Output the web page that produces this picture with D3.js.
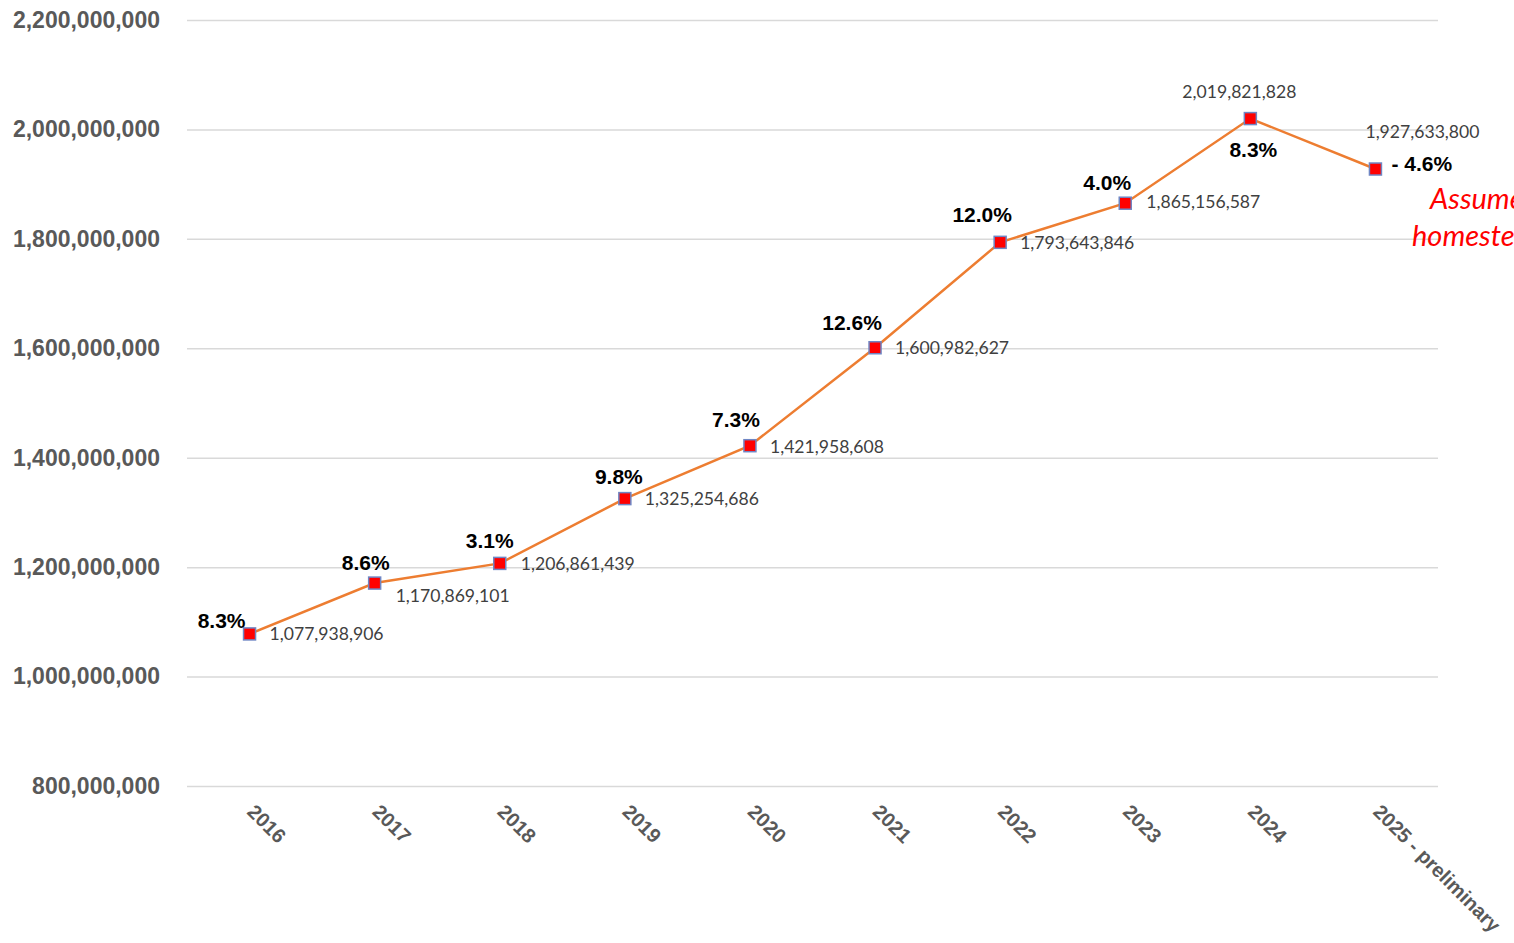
<!DOCTYPE html>
<html>
<head>
<meta charset="utf-8">
<script src="https://cdn.jsdelivr.net/npm/d3@7"></script>
<style>
  body { margin: 0; background: #fff; }
  svg { display: block; }
</style>
</head>
<body>
<svg width="1514" height="943"></svg>
<script>
// data
var years = ["2016", "2017", "2018", "2019", "2020", "2021", "2022", "2023", "2024", "2025 - preliminary"];
var values = [1077938906, 1170869101, 1206861439, 1325254686, 1421958608, 1600982627, 1793643846, 1865156587, 2019821828, 1927633800];
var pctLabels = ["8.3%", "8.6%", "3.1%", "9.8%", "7.3%", "12.6%", "12.0%", "4.0%", "8.3%", "- 4.6%"];
var yTicks = [800000000, 1000000000, 1200000000, 1400000000, 1600000000, 1800000000, 2000000000, 2200000000];
var noteLines = ["Assumes", "homestead"];

// where each label goes relative to its point: [pct dx, pct dy, pct anchor, value dx, value dy, value anchor]
var labelPos = [
    [-4, -13, "end", 20, 0, "start"],
    [-9, -20, "middle", 21, 13, "start"],
    [-10, -23, "middle", 21, 0, "start"],
    [-6, -22, "middle", 20, 0, "start"],
    [-14, -26, "middle", 20, 1, "start"],
    [-23, -25, "middle", 20, 0, "start"],
    [-18, -28, "middle", 20, 1, "start"],
    [-18, -21, "middle", 21, -1, "start"],
    [3, 31, "middle", -11, -27, "middle"],
    [16, -5, "start", 47, -37, "middle"]
];

var svg = d3.select("svg"),
    mLeft = 187, mRight = 1438, mTop = 20, mBottom = 786;

var x = d3.scalePoint()
    .domain(years)
    .range([mLeft, mRight])
    .padding(0.5);

var y = d3.scaleLinear()
    .domain([800000000, 2200000000])
    .range([mBottom, mTop]);

// gridlines + y labels
var yAxis = svg.append("g")
    .attr("transform", "translate(" + mLeft + ",0)")
    .call(d3.axisLeft(y).tickValues(yTicks).tickFormat(d3.format(",")).tickSize(-(mRight - mLeft)).tickPadding(27));
yAxis.select(".domain").remove();
yAxis.selectAll("line").attr("stroke", "#d9d9d9").attr("stroke-width", 1.5);
yAxis.selectAll("text")
    .attr("fill", "#595959")
    .style("font-family", "Liberation Sans, Arial, sans-serif")
    .style("font-size", "23px")
    .style("font-weight", "bold");

// x labels, rotated
var xAxis = svg.append("g")
    .attr("transform", "translate(0," + mBottom + ")")
    .call(d3.axisBottom(x).tickSize(0).tickPadding(0));
xAxis.select(".domain").remove();
xAxis.selectAll("text")
    .attr("fill", "#595959")
    .attr("text-anchor", "start")
    .attr("dy", 0)
    .attr("transform", "translate(-4,27) rotate(45)")
    .style("font-family", "Liberation Sans, Arial, sans-serif")
    .style("font-size", "20px")
    .style("font-weight", "bold");

var pts = years.map(function(d, i) { return {year: d, value: values[i], pct: pctLabels[i], pos: labelPos[i]}; });

var line = d3.line()
    .x(function(d) { return x(d.year); })
    .y(function(d) { return y(d.value); });

svg.append("path")
    .datum(pts)
    .attr("d", line)
    .attr("fill", "none")
    .attr("stroke", "#ed7d31")
    .attr("stroke-width", 2.5);

svg.selectAll("rect.mark")
    .data(pts)
    .enter().append("rect")
    .attr("class", "mark")
    .attr("x", function(d) { return x(d.year) - 6; })
    .attr("y", function(d) { return y(d.value) - 6; })
    .attr("width", 12)
    .attr("height", 12)
    .attr("fill", "#ff0000")
    .attr("stroke", "#6f86c4")
    .attr("stroke-width", 1.5);

svg.selectAll("text.val")
    .data(pts)
    .enter().append("text")
    .attr("class", "val")
    .attr("x", function(d) { return x(d.year) + d.pos[3]; })
    .attr("y", function(d) { return y(d.value) + d.pos[4]; })
    .attr("dy", "0.35em")
    .attr("text-anchor", function(d) { return d.pos[5]; })
    .attr("fill", "#404040")
    .style("font-family", "Lato, sans-serif")
    .style("font-size", "17.6px")
    .text(function(d) { return d3.format(",")(d.value); });

svg.selectAll("text.pct")
    .data(pts)
    .enter().append("text")
    .attr("class", "pct")
    .attr("x", function(d) { return x(d.year) + d.pos[0]; })
    .attr("y", function(d) { return y(d.value) + d.pos[1]; })
    .attr("dy", "0.35em")
    .attr("text-anchor", function(d) { return d.pos[2]; })
    .attr("fill", "#000")
    .style("font-family", "Liberation Sans, Arial, sans-serif")
    .style("font-size", "21px")
    .style("font-weight", "bold")
    .text(function(d) { return d.pct; });

// red note, runs off the right edge as in the original
svg.append("g").selectAll("text")
    .data(noteLines)
    .enter().append("text")
    .attr("x", function(d, i) { return i ? 1412 : 1430; })
    .attr("y", function(d, i) { return 209 + i * 37; })
    .attr("fill", "#ff0000")
    .style("font-family", "Lato, sans-serif")
    .style("font-style", "italic")
    .style("font-size", "29px")
    .text(function(d) { return d; });
</script>
</body>
</html>
